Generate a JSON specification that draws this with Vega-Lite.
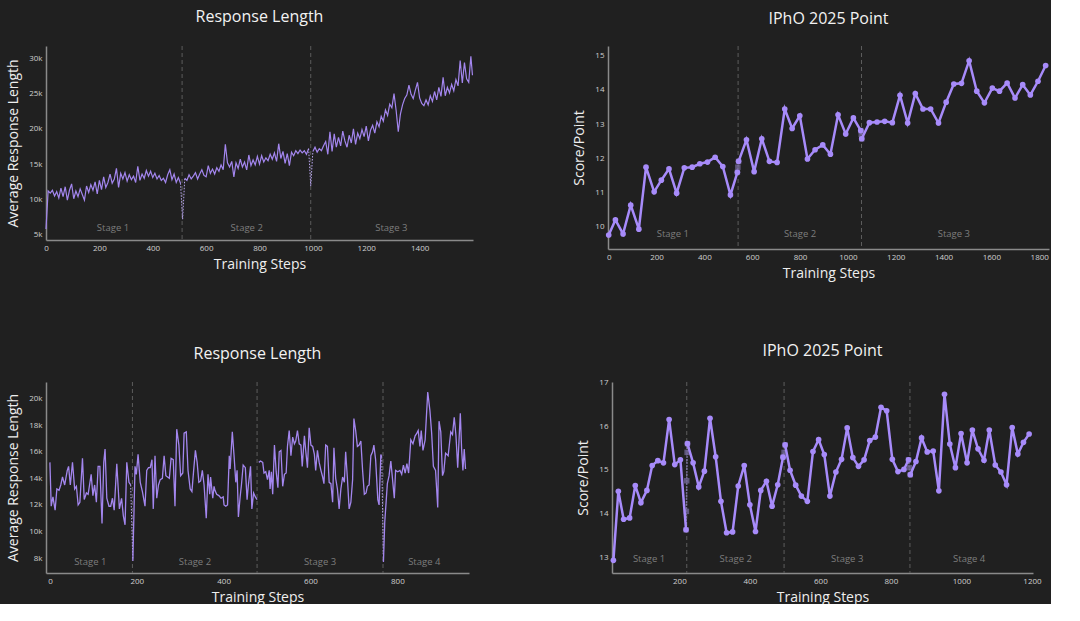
{
  "$schema": "https://vega.github.io/schema/vega-lite/v6.json",
  "background": "#202020",
  "padding": {"left": 6, "top": 8, "right": 0, "bottom": 0},
  "bounds": "flush",
  "config": {
    "font": "Open Sans",
    "view": {"stroke": null},
    "axis": {"domainColor": "#8a8a8a", "domainWidth": 1.5, "ticks": false, "grid": false, "tickCount": 30, "labelColor": "#cfcfcf", "labelFontSize": 8, "labelPadding": 4, "labelOverlap": false, "labelFlush": false, "titleColor": "#eeeeee", "titleFontSize": 14, "titleFontWeight": "normal", "titlePadding": 8},
    "axisX": {"titlePadding": 5},
    "title": {"fontSize": 16, "fontWeight": "normal", "color": "#f2f2f2", "anchor": "middle", "frame": "group"}
  },
  "datasets": {
    "p1": [
      {"step":0,"value":5800,"stage":1},{"step":8,"value":11200,"stage":1},{"step":16,"value":10900,"stage":1},{"step":24,"value":11300,"stage":1},{"step":32,"value":10500,"stage":1},{"step":40,"value":11100,"stage":1},{"step":48,"value":10200,"stage":1},{"step":56,"value":11600,"stage":1},{"step":64,"value":10400,"stage":1},{"step":72,"value":11800,"stage":1},{"step":80,"value":9900,"stage":1},{"step":88,"value":11300,"stage":1},{"step":96,"value":12200,"stage":1},{"step":104,"value":10100,"stage":1},{"step":112,"value":11200,"stage":1},{"step":120,"value":10400,"stage":1},{"step":128,"value":11500,"stage":1},{"step":136,"value":10700,"stage":1},{"step":144,"value":9900,"stage":1},{"step":152,"value":11900,"stage":1},{"step":160,"value":11000,"stage":1},{"step":168,"value":12100,"stage":1},{"step":176,"value":11300,"stage":1},{"step":184,"value":12500,"stage":1},{"step":192,"value":10800,"stage":1},{"step":200,"value":12700,"stage":1},{"step":208,"value":11400,"stage":1},{"step":216,"value":13200,"stage":1},{"step":224,"value":11700,"stage":1},{"step":232,"value":12400,"stage":1},{"step":240,"value":13600,"stage":1},{"step":248,"value":12300,"stage":1},{"step":256,"value":12900,"stage":1},{"step":264,"value":14400,"stage":1},{"step":272,"value":11700,"stage":1},{"step":280,"value":13700,"stage":1},{"step":288,"value":12900,"stage":1},{"step":296,"value":13800,"stage":1},{"step":304,"value":12600,"stage":1},{"step":312,"value":13500,"stage":1},{"step":320,"value":12800,"stage":1},{"step":328,"value":13300,"stage":1},{"step":336,"value":12400,"stage":1},{"step":344,"value":14700,"stage":1},{"step":352,"value":12700,"stage":1},{"step":360,"value":13600,"stage":1},{"step":368,"value":13000,"stage":1},{"step":376,"value":14100,"stage":1},{"step":384,"value":13300,"stage":1},{"step":392,"value":14000,"stage":1},{"step":400,"value":13100,"stage":1},{"step":408,"value":13700,"stage":1},{"step":416,"value":12900,"stage":1},{"step":424,"value":13400,"stage":1},{"step":432,"value":12700,"stage":1},{"step":440,"value":13000,"stage":1},{"step":448,"value":12400,"stage":1},{"step":456,"value":13500,"stage":1},{"step":464,"value":14200,"stage":1},{"step":472,"value":12800,"stage":1},{"step":480,"value":13600,"stage":1},{"step":488,"value":12400,"stage":1},{"step":496,"value":13100,"stage":1},{"step":504,"value":12300,"stage":1},
      {"step":520,"value":13000,"stage":2},{"step":528,"value":12700,"stage":2},{"step":536,"value":13500,"stage":2},{"step":544,"value":12900,"stage":2},{"step":552,"value":13300,"stage":2},{"step":560,"value":13800,"stage":2},{"step":568,"value":12900,"stage":2},{"step":576,"value":13600,"stage":2},{"step":584,"value":14200,"stage":2},{"step":592,"value":13400,"stage":2},{"step":600,"value":13200,"stage":2},{"step":608,"value":14800,"stage":2},{"step":616,"value":13700,"stage":2},{"step":624,"value":14300,"stage":2},{"step":632,"value":13600,"stage":2},{"step":640,"value":14500,"stage":2},{"step":648,"value":14000,"stage":2},{"step":656,"value":14900,"stage":2},{"step":664,"value":14200,"stage":2},{"step":672,"value":17800,"stage":2},{"step":680,"value":15200,"stage":2},{"step":688,"value":14600,"stage":2},{"step":696,"value":15400,"stage":2},{"step":704,"value":13200,"stage":2},{"step":712,"value":15200,"stage":2},{"step":720,"value":14400,"stage":2},{"step":728,"value":15700,"stage":2},{"step":736,"value":14600,"stage":2},{"step":744,"value":15300,"stage":2},{"step":752,"value":14200,"stage":2},{"step":760,"value":16300,"stage":2},{"step":768,"value":14800,"stage":2},{"step":776,"value":15600,"stage":2},{"step":784,"value":14900,"stage":2},{"step":792,"value":16100,"stage":2},{"step":800,"value":15000,"stage":2},{"step":808,"value":16200,"stage":2},{"step":816,"value":15300,"stage":2},{"step":824,"value":15900,"stage":2},{"step":832,"value":15500,"stage":2},{"step":840,"value":16400,"stage":2},{"step":848,"value":15700,"stage":2},{"step":856,"value":16600,"stage":2},{"step":864,"value":15400,"stage":2},{"step":872,"value":17900,"stage":2},{"step":880,"value":15800,"stage":2},{"step":888,"value":16800,"stage":2},{"step":896,"value":15100,"stage":2},{"step":904,"value":16500,"stage":2},{"step":912,"value":14800,"stage":2},{"step":920,"value":16700,"stage":2},{"step":928,"value":16200,"stage":2},{"step":936,"value":16900,"stage":2},{"step":944,"value":16500,"stage":2},{"step":952,"value":17000,"stage":2},{"step":960,"value":16600,"stage":2},{"step":968,"value":16900,"stage":2},{"step":976,"value":16400,"stage":2},{"step":984,"value":17200,"stage":2},
      {"step":1000,"value":16800,"stage":3},{"step":1008,"value":17400,"stage":3},{"step":1016,"value":16700,"stage":3},{"step":1024,"value":17200,"stage":3},{"step":1032,"value":16900,"stage":3},{"step":1040,"value":17600,"stage":3},{"step":1048,"value":18200,"stage":3},{"step":1056,"value":16400,"stage":3},{"step":1064,"value":19600,"stage":3},{"step":1072,"value":16800,"stage":3},{"step":1080,"value":19300,"stage":3},{"step":1088,"value":17400,"stage":3},{"step":1096,"value":18800,"stage":3},{"step":1104,"value":17600,"stage":3},{"step":1112,"value":19700,"stage":3},{"step":1120,"value":18300,"stage":3},{"step":1128,"value":17400,"stage":3},{"step":1136,"value":19100,"stage":3},{"step":1144,"value":18000,"stage":3},{"step":1152,"value":20000,"stage":3},{"step":1160,"value":17800,"stage":3},{"step":1168,"value":19400,"stage":3},{"step":1176,"value":18600,"stage":3},{"step":1184,"value":19900,"stage":3},{"step":1192,"value":18900,"stage":3},{"step":1200,"value":20400,"stage":3},{"step":1208,"value":18300,"stage":3},{"step":1216,"value":19800,"stage":3},{"step":1224,"value":20500,"stage":3},{"step":1232,"value":19400,"stage":3},{"step":1240,"value":21000,"stage":3},{"step":1248,"value":20300,"stage":3},{"step":1256,"value":21800,"stage":3},{"step":1264,"value":21100,"stage":3},{"step":1272,"value":22700,"stage":3},{"step":1280,"value":21900,"stage":3},{"step":1288,"value":23500,"stage":3},{"step":1296,"value":23000,"stage":3},{"step":1304,"value":25000,"stage":3},{"step":1312,"value":22600,"stage":3},{"step":1320,"value":19600,"stage":3},{"step":1328,"value":22100,"stage":3},{"step":1336,"value":23400,"stage":3},{"step":1344,"value":24300,"stage":3},{"step":1352,"value":24800,"stage":3},{"step":1360,"value":26200,"stage":3},{"step":1368,"value":24900,"stage":3},{"step":1376,"value":24300,"stage":3},{"step":1384,"value":25500,"stage":3},{"step":1392,"value":26600,"stage":3},{"step":1400,"value":24400,"stage":3},{"step":1408,"value":23600,"stage":3},{"step":1416,"value":23300,"stage":3},{"step":1424,"value":24100,"stage":3},{"step":1432,"value":23400,"stage":3},{"step":1440,"value":24700,"stage":3},{"step":1448,"value":23900,"stage":3},{"step":1456,"value":25300,"stage":3},{"step":1464,"value":24100,"stage":3},{"step":1472,"value":25900,"stage":3},{"step":1480,"value":24600,"stage":3},{"step":1488,"value":27300,"stage":3},{"step":1496,"value":24700,"stage":3},{"step":1504,"value":25900,"stage":3},{"step":1512,"value":25100,"stage":3},{"step":1520,"value":26300,"stage":3},{"step":1528,"value":25400,"stage":3},{"step":1536,"value":27000,"stage":3},{"step":1544,"value":26100,"stage":3},{"step":1552,"value":29700,"stage":3},{"step":1560,"value":26500,"stage":3},{"step":1568,"value":29400,"stage":3},{"step":1576,"value":27100,"stage":3},{"step":1584,"value":26600,"stage":3},{"step":1592,"value":30300,"stage":3},{"step":1598,"value":27600,"stage":3}
    ],
    "p1c": [
      {"step":504,"value":12300,"seg":1},{"step":512,"value":7200,"seg":1},{"step":520,"value":13000,"seg":1},
      {"step":984,"value":17200,"seg":2},{"step":992,"value":11900,"seg":2},{"step":1000,"value":16800,"seg":2}
    ],
    "p1b": [{"step":510},{"step":992}],
    "p1l": [{"step":251,"value":6000,"label":"Stage 1"},{"step":752,"value":6000,"label":"Stage 2"},{"step":1294,"value":6000,"label":"Stage 3"}],
    "p2": [
      {"step":0,"value":9.76,"stage":1},{"step":28,"value":10.2,"stage":1},{"step":60,"value":9.79,"stage":1},{"step":92,"value":10.63,"stage":1},{"step":126,"value":9.93,"stage":1},{"step":156,"value":11.74,"stage":1},{"step":190,"value":11.02,"stage":1},{"step":220,"value":11.36,"stage":1},{"step":252,"value":11.69,"stage":1},{"step":284,"value":10.98,"stage":1},{"step":316,"value":11.72,"stage":1},{"step":349,"value":11.74,"stage":1},{"step":381,"value":11.84,"stage":1},{"step":413,"value":11.89,"stage":1},{"step":445,"value":12.03,"stage":1},{"step":477,"value":11.76,"stage":1},{"step":509,"value":10.93,"stage":1},{"step":538,"value":11.59,"stage":1},
      {"step":543,"value":11.91,"stage":2},{"step":576,"value":12.54,"stage":2},{"step":608,"value":11.61,"stage":2},{"step":640,"value":12.57,"stage":2},{"step":672,"value":11.91,"stage":2},{"step":704,"value":11.88,"stage":2},{"step":736,"value":13.44,"stage":2},{"step":767,"value":12.87,"stage":2},{"step":799,"value":13.24,"stage":2},{"step":831,"value":11.98,"stage":2},{"step":863,"value":12.25,"stage":2},{"step":895,"value":12.39,"stage":2},{"step":927,"value":12.12,"stage":2},{"step":959,"value":13.27,"stage":2},{"step":991,"value":12.71,"stage":2},{"step":1023,"value":13.18,"stage":2},{"step":1054,"value":12.81,"stage":2},
      {"step":1058,"value":12.57,"stage":3},{"step":1090,"value":13.04,"stage":3},{"step":1122,"value":13.06,"stage":3},{"step":1154,"value":13.08,"stage":3},{"step":1186,"value":13.04,"stage":3},{"step":1218,"value":13.84,"stage":3},{"step":1250,"value":13.03,"stage":3},{"step":1282,"value":13.89,"stage":3},{"step":1314,"value":13.44,"stage":3},{"step":1346,"value":13.44,"stage":3},{"step":1379,"value":13.03,"stage":3},{"step":1411,"value":13.64,"stage":3},{"step":1443,"value":14.17,"stage":3},{"step":1475,"value":14.19,"stage":3},{"step":1507,"value":14.85,"stage":3},{"step":1539,"value":13.96,"stage":3},{"step":1571,"value":13.62,"stage":3},{"step":1604,"value":14.05,"stage":3},{"step":1634,"value":13.96,"stage":3},{"step":1666,"value":14.2,"stage":3},{"step":1699,"value":13.76,"stage":3},{"step":1731,"value":14.15,"stage":3},{"step":1763,"value":13.85,"stage":3},{"step":1795,"value":14.25,"stage":3},{"step":1827,"value":14.71,"stage":3}
    ],
    "p2c": [
      {"step":538,"value":11.59,"seg":1},{"step":540,"value":11.74,"seg":1},{"step":543,"value":11.91,"seg":1},
      {"step":1054,"value":12.81,"seg":2},{"step":1056,"value":12.7,"seg":2},{"step":1058,"value":12.57,"seg":2}
    ],
    "p2b": [{"step":541},{"step":1057}],
    "p2l": [{"step":268,"value":9.8,"label":"Stage 1"},{"step":800,"value":9.8,"label":"Stage 2"},{"step":1443,"value":9.8,"label":"Stage 3"}],
    "p3": [
      {"step":0,"value":15200,"stage":1},{"step":3,"value":11900,"stage":1},{"step":7,"value":12600,"stage":1},{"step":12,"value":11600,"stage":1},{"step":16,"value":13200,"stage":1},{"step":21,"value":13100,"stage":1},{"step":25,"value":13500,"stage":1},{"step":29,"value":14100,"stage":1},{"step":34,"value":13500,"stage":1},{"step":40,"value":14600,"stage":1},{"step":43,"value":14900,"stage":1},{"step":47,"value":13500,"stage":1},{"step":52,"value":15200,"stage":1},{"step":57,"value":13200,"stage":1},{"step":61,"value":13400,"stage":1},{"step":65,"value":12000,"stage":1},{"step":69,"value":12200,"stage":1},{"step":75,"value":15500,"stage":1},{"step":79,"value":12400,"stage":1},{"step":84,"value":12900,"stage":1},{"step":88,"value":12800,"stage":1},{"step":95,"value":14300,"stage":1},{"step":99,"value":12700,"stage":1},{"step":103,"value":13500,"stage":1},{"step":107,"value":12200,"stage":1},{"step":111,"value":14900,"stage":1},{"step":115,"value":14900,"stage":1},{"step":120,"value":10600,"stage":1},{"step":124,"value":15200,"stage":1},{"step":127,"value":16200,"stage":1},{"step":131,"value":12500,"stage":1},{"step":136,"value":11900,"stage":1},{"step":140,"value":11900,"stage":1},{"step":144,"value":12500,"stage":1},{"step":148,"value":11600,"stage":1},{"step":154,"value":15100,"stage":1},{"step":160,"value":11700,"stage":1},{"step":165,"value":12500,"stage":1},{"step":169,"value":11200,"stage":1},{"step":173,"value":10500,"stage":1},{"step":177,"value":15200,"stage":1},{"step":182,"value":13700,"stage":1},{"step":186,"value":13500,"stage":1},
      {"step":191,"value":7800,"stage":2},{"step":196,"value":14900,"stage":2},{"step":199,"value":14300,"stage":2},{"step":203,"value":15800,"stage":2},{"step":208,"value":13700,"stage":2},{"step":213,"value":13000,"stage":2},{"step":219,"value":11900,"stage":2},{"step":223,"value":14600,"stage":2},{"step":227,"value":14800,"stage":2},{"step":231,"value":14800,"stage":2},{"step":235,"value":15400,"stage":2},{"step":238,"value":11700,"stage":2},{"step":242,"value":15700,"stage":2},{"step":246,"value":12500,"stage":2},{"step":250,"value":13500,"stage":2},{"step":254,"value":13900,"stage":2},{"step":259,"value":14000,"stage":2},{"step":263,"value":15700,"stage":2},{"step":267,"value":14200,"stage":2},{"step":271,"value":14100,"stage":2},{"step":275,"value":14000,"stage":2},{"step":279,"value":15500,"stage":2},{"step":284,"value":15400,"stage":2},{"step":288,"value":11900,"stage":2},{"step":292,"value":17700,"stage":2},{"step":297,"value":16500,"stage":2},{"step":301,"value":14200,"stage":2},{"step":306,"value":14400,"stage":2},{"step":309,"value":17400,"stage":2},{"step":314,"value":17500,"stage":2},{"step":318,"value":14600,"stage":2},{"step":323,"value":13200,"stage":2},{"step":327,"value":13000,"stage":2},{"step":331,"value":14600,"stage":2},{"step":335,"value":16100,"stage":2},{"step":339,"value":15200,"stage":2},{"step":343,"value":13700,"stage":2},{"step":347,"value":13800,"stage":2},{"step":351,"value":14600,"stage":2},{"step":355,"value":13500,"stage":2},{"step":358,"value":12000,"stage":2},{"step":360,"value":11000,"stage":2},{"step":364,"value":14300,"stage":2},{"step":368,"value":12800,"stage":2},{"step":370,"value":14100,"stage":2},{"step":375,"value":12500,"stage":2},{"step":378,"value":13400,"stage":2},{"step":380,"value":13100,"stage":2},{"step":384,"value":12800,"stage":2},{"step":389,"value":12700,"stage":2},{"step":394,"value":12500,"stage":2},{"step":399,"value":12600,"stage":2},{"step":401,"value":12000,"stage":2},{"step":405,"value":11900,"stage":2},{"step":409,"value":12000,"stage":2},{"step":413,"value":15700,"stage":2},{"step":415,"value":14700,"stage":2},{"step":420,"value":17500,"stage":2},{"step":424,"value":15700,"stage":2},{"step":428,"value":13700,"stage":2},{"step":431,"value":14600,"stage":2},{"step":434,"value":11100,"stage":2},{"step":438,"value":12600,"stage":2},{"step":441,"value":13500,"stage":2},{"step":445,"value":15000,"stage":2},{"step":450,"value":14800,"stage":2},{"step":454,"value":12400,"stage":2},{"step":457,"value":13500,"stage":2},{"step":462,"value":14900,"stage":2},{"step":465,"value":11700,"stage":2},{"step":469,"value":12900,"stage":2},{"step":473,"value":12600,"stage":2},{"step":477,"value":12400,"stage":2},
      {"step":481,"value":15200,"stage":3},{"step":485,"value":15300,"stage":3},{"step":490,"value":15200,"stage":3},{"step":493,"value":14400,"stage":3},{"step":497,"value":14500,"stage":3},{"step":501,"value":13900,"stage":3},{"step":505,"value":14600,"stage":3},{"step":507,"value":13200,"stage":3},{"step":510,"value":14500,"stage":3},{"step":513,"value":12800,"stage":3},{"step":517,"value":16500,"stage":3},{"step":521,"value":14500,"stage":3},{"step":525,"value":13300,"stage":3},{"step":528,"value":16000,"stage":3},{"step":532,"value":16100,"stage":3},{"step":536,"value":13400,"stage":3},{"step":540,"value":14300,"stage":3},{"step":544,"value":14400,"stage":3},{"step":547,"value":16400,"stage":3},{"step":551,"value":17600,"stage":3},{"step":555,"value":15700,"stage":3},{"step":559,"value":17100,"stage":3},{"step":563,"value":16600,"stage":3},{"step":566,"value":16800,"stage":3},{"step":570,"value":17600,"stage":3},{"step":574,"value":16600,"stage":3},{"step":578,"value":16500,"stage":3},{"step":581,"value":14900,"stage":3},{"step":586,"value":17200,"stage":3},{"step":589,"value":16100,"stage":3},{"step":593,"value":14800,"stage":3},{"step":597,"value":17800,"stage":3},{"step":601,"value":16500,"stage":3},{"step":605,"value":16400,"stage":3},{"step":609,"value":15800,"stage":3},{"step":612,"value":14600,"stage":3},{"step":616,"value":16100,"stage":3},{"step":620,"value":15200,"stage":3},{"step":624,"value":14600,"stage":3},{"step":628,"value":14100,"stage":3},{"step":631,"value":13600,"stage":3},{"step":635,"value":16500,"stage":3},{"step":639,"value":16400,"stage":3},{"step":643,"value":13700,"stage":3},{"step":647,"value":13600,"stage":3},{"step":651,"value":12200,"stage":3},{"step":654,"value":16300,"stage":3},{"step":658,"value":14000,"stage":3},{"step":662,"value":13200,"stage":3},{"step":666,"value":11700,"stage":3},{"step":670,"value":13200,"stage":3},{"step":674,"value":14100,"stage":3},{"step":678,"value":13700,"stage":3},{"step":681,"value":16000,"stage":3},{"step":685,"value":14000,"stage":3},{"step":689,"value":11700,"stage":3},{"step":693,"value":12200,"stage":3},{"step":697,"value":13900,"stage":3},{"step":700,"value":18500,"stage":3},{"step":704,"value":17600,"stage":3},{"step":708,"value":16400,"stage":3},{"step":712,"value":16500,"stage":3},{"step":716,"value":16800,"stage":3},{"step":720,"value":14600,"stage":3},{"step":724,"value":12800,"stage":3},{"step":728,"value":12900,"stage":3},{"step":731,"value":13400,"stage":3},{"step":735,"value":13500,"stage":3},{"step":739,"value":15700,"stage":3},{"step":743,"value":16000,"stage":3},{"step":746,"value":16500,"stage":3},{"step":750,"value":15400,"stage":3},{"step":755,"value":12400,"stage":3},{"step":758,"value":12000,"stage":3},{"step":762,"value":15800,"stage":3},{"step":764,"value":15600,"stage":3},
      {"step":768,"value":7700,"stage":4},{"step":771,"value":10700,"stage":4},{"step":777,"value":13600,"stage":4},{"step":781,"value":14200,"stage":4},{"step":785,"value":15300,"stage":4},{"step":789,"value":13900,"stage":4},{"step":793,"value":12500,"stage":4},{"step":796,"value":14600,"stage":4},{"step":801,"value":14500,"stage":4},{"step":806,"value":14600,"stage":4},{"step":810,"value":14300,"stage":4},{"step":814,"value":15000,"stage":4},{"step":818,"value":14400,"stage":4},{"step":822,"value":15100,"stage":4},{"step":826,"value":14400,"stage":4},{"step":831,"value":16900,"stage":4},{"step":836,"value":16600,"stage":4},{"step":841,"value":17200,"stage":4},{"step":845,"value":17400,"stage":4},{"step":848,"value":17600,"stage":4},{"step":852,"value":16400,"stage":4},{"step":855,"value":17600,"stage":4},{"step":859,"value":16100,"stage":4},{"step":864,"value":16900,"stage":4},{"step":870,"value":20500,"stage":4},{"step":875,"value":19100,"stage":4},{"step":879,"value":17400,"stage":4},{"step":883,"value":14900,"stage":4},{"step":888,"value":14600,"stage":4},{"step":893,"value":11800,"stage":4},{"step":896,"value":18300,"stage":4},{"step":900,"value":17500,"stage":4},{"step":904,"value":14200,"stage":4},{"step":907,"value":14500,"stage":4},{"step":911,"value":15900,"stage":4},{"step":917,"value":15700,"stage":4},{"step":923,"value":17500,"stage":4},{"step":927,"value":17300,"stage":4},{"step":931,"value":18600,"stage":4},{"step":935,"value":17200,"stage":4},{"step":939,"value":14800,"stage":4},{"step":945,"value":18900,"stage":4},{"step":948,"value":16200,"stage":4},{"step":951,"value":14600,"stage":4},{"step":954,"value":16200,"stage":4},{"step":957,"value":14700,"stage":4}
    ],
    "p3c": [
      {"step":186,"value":13500,"seg":1},{"step":191,"value":7800,"seg":1},
      {"step":764,"value":15600,"seg":2},{"step":768,"value":7700,"seg":2}
    ],
    "p3b": [{"step":190},{"step":477},{"step":767}],
    "p3l": [{"step":93,"value":7720,"label":"Stage 1"},{"step":334,"value":7720,"label":"Stage 2"},{"step":622,"value":7720,"label":"Stage 3"},{"step":862,"value":7720,"label":"Stage 4"}],
    "p4": [
      {"step":13,"value":12.93,"stage":1},{"step":27,"value":14.51,"stage":1},{"step":42,"value":13.87,"stage":1},{"step":59,"value":13.9,"stage":1},{"step":75,"value":14.64,"stage":1},{"step":91,"value":14.25,"stage":1},{"step":108,"value":14.53,"stage":1},{"step":123,"value":15.1,"stage":1},{"step":139,"value":15.21,"stage":1},{"step":155,"value":15.16,"stage":1},{"step":171,"value":16.15,"stage":1},{"step":187,"value":15.12,"stage":1},{"step":203,"value":15.23,"stage":1},{"step":219,"value":13.63,"stage":1},
      {"step":223,"value":15.6,"stage":2},{"step":239,"value":15.16,"stage":2},{"step":255,"value":14.61,"stage":2},{"step":271,"value":14.97,"stage":2},{"step":287,"value":16.18,"stage":2},{"step":303,"value":15.3,"stage":2},{"step":318,"value":14.28,"stage":2},{"step":334,"value":13.56,"stage":2},{"step":351,"value":13.58,"stage":2},{"step":367,"value":14.63,"stage":2},{"step":384,"value":15.1,"stage":2},{"step":400,"value":14.2,"stage":2},{"step":416,"value":13.59,"stage":2},{"step":431,"value":14.53,"stage":2},{"step":447,"value":14.74,"stage":2},{"step":463,"value":14.17,"stage":2},{"step":479,"value":14.66,"stage":2},{"step":494,"value":15.29,"stage":2},
      {"step":500,"value":15.57,"stage":3},{"step":514,"value":14.99,"stage":3},{"step":530,"value":14.65,"stage":3},{"step":546,"value":14.4,"stage":3},{"step":563,"value":14.28,"stage":3},{"step":579,"value":15.42,"stage":3},{"step":595,"value":15.69,"stage":3},{"step":611,"value":15.35,"stage":3},{"step":627,"value":14.4,"stage":3},{"step":644,"value":14.95,"stage":3},{"step":660,"value":15.24,"stage":3},{"step":676,"value":15.96,"stage":3},{"step":692,"value":15.28,"stage":3},{"step":708,"value":15.08,"stage":3},{"step":724,"value":15.23,"stage":3},{"step":740,"value":15.67,"stage":3},{"step":756,"value":15.75,"stage":3},{"step":772,"value":16.43,"stage":3},{"step":788,"value":16.35,"stage":3},{"step":804,"value":15.24,"stage":3},{"step":820,"value":14.96,"stage":3},{"step":837,"value":15.01,"stage":3},{"step":850,"value":15.23,"stage":3},
      {"step":855,"value":14.89,"stage":4},{"step":871,"value":15.19,"stage":4},{"step":887,"value":15.73,"stage":4},{"step":903,"value":15.41,"stage":4},{"step":920,"value":15.43,"stage":4},{"step":936,"value":14.52,"stage":4},{"step":952,"value":16.73,"stage":4},{"step":967,"value":15.59,"stage":4},{"step":983,"value":15.05,"stage":4},{"step":999,"value":15.83,"stage":4},{"step":1016,"value":15.16,"stage":4},{"step":1031,"value":15.91,"stage":4},{"step":1047,"value":15.48,"stage":4},{"step":1064,"value":15.22,"stage":4},{"step":1079,"value":15.91,"stage":4},{"step":1096,"value":15.11,"stage":4},{"step":1112,"value":14.95,"stage":4},{"step":1128,"value":14.66,"stage":4},{"step":1144,"value":15.97,"stage":4},{"step":1160,"value":15.36,"stage":4},{"step":1176,"value":15.63,"stage":4},{"step":1192,"value":15.82,"stage":4}
    ],
    "p4c": [
      {"step":219,"value":13.63,"seg":1},{"step":220,"value":14.05,"seg":1},{"step":221,"value":14.75,"seg":1},{"step":222,"value":15.4,"seg":1},{"step":223,"value":15.6,"seg":1},
      {"step":494,"value":15.29,"seg":2},{"step":497,"value":15.4,"seg":2},{"step":500,"value":15.57,"seg":2},
      {"step":850,"value":15.23,"seg":3},{"step":852,"value":15.05,"seg":3},{"step":855,"value":14.89,"seg":3}
    ],
    "p4b": [{"step":221},{"step":497},{"step":854}],
    "p4l": [{"step":114,"value":12.97,"label":"Stage 1"},{"step":360,"value":12.97,"label":"Stage 2"},{"step":676,"value":12.97,"label":"Stage 3"},{"step":1022,"value":12.97,"label":"Stage 4"}]
  },
  "vconcat": [
    {
      "bounds": "flush",
      "hconcat": [
        {
          "title": {"text": "Response Length", "offset": 21},
          "width": 427, "height": 194,
          "layer": [
            {"data": {"name": "p1"}, "mark": {"type": "line", "color": "#a386ee", "strokeWidth": 1.2},
             "encoding": {"x": {"field": "step", "type": "quantitative", "scale": {"domain": [0, 1600], "nice": false, "zero": false}, "axis": {"title": "Training Steps", "values": [0, 200, 400, 600, 800, 1000, 1200, 1400], "format": "d"}},
                          "y": {"field": "value", "type": "quantitative", "scale": {"domain": [4250, 31750], "nice": false, "zero": false}, "axis": {"title": "Average Response Length", "values": [5000, 10000, 15000, 20000, 25000, 30000], "format": "~s"}},
                          "detail": {"field": "stage"}}},
            {"data": {"name": "p1b"}, "mark": {"type": "rule", "color": "#5c5c5c", "strokeDash": [4, 3], "strokeWidth": 1},
             "encoding": {"x": {"field": "step", "type": "quantitative"}}},
            {"data": {"name": "p1l"}, "mark": {"type": "text", "color": "#7d7d7d", "fontSize": 9.5},
             "encoding": {"x": {"field": "step", "type": "quantitative"},
                          "y": {"field": "value", "type": "quantitative"},
                          "text": {"field": "label"}}},
            {"data": {"name": "p1c"}, "mark": {"type": "line", "color": "#b9a6f0", "strokeWidth": 1, "strokeDash": [1.5, 1.5]},
             "encoding": {"x": {"field": "step", "type": "quantitative"},
                          "y": {"field": "value", "type": "quantitative"},
                          "detail": {"field": "seg"}}}
          ]
        },
        {
          "title": {"text": "IPhO 2025 Point", "offset": 19},
          "width": 441, "height": 203,
          "layer": [
            {"data": {"name": "p2b"}, "mark": {"type": "rule", "color": "#5c5c5c", "strokeDash": [4, 3], "strokeWidth": 1},
             "encoding": {"x": {"field": "step", "type": "quantitative", "scale": {"domain": [-3, 1841], "nice": false, "zero": false}, "axis": {"title": "Training Steps", "values": [0, 200, 400, 600, 800, 1000, 1200, 1400, 1600, 1800], "format": "d"}}}},
            {"data": {"name": "p2l"}, "mark": {"type": "text", "color": "#7d7d7d", "fontSize": 9.5},
             "encoding": {"x": {"field": "step", "type": "quantitative"},
                          "y": {"field": "value", "type": "quantitative", "scale": {"domain": [9.35, 15.28], "nice": false, "zero": false}, "axis": {"title": "Score/Point", "values": [10, 11, 12, 13, 14, 15], "format": "d"}},
                          "text": {"field": "label"}}},
            {"data": {"name": "p2c"}, "mark": {"type": "line", "color": "#8b7fb8", "strokeWidth": 1.5, "strokeDash": [1.5, 1.5], "point": {"shape": "square", "filled": true, "size": 30, "color": "#6f6594", "opacity": 0.8}},
             "encoding": {"x": {"field": "step", "type": "quantitative"},
                          "y": {"field": "value", "type": "quantitative"},
                          "detail": {"field": "seg"}}},
            {"data": {"name": "p2"}, "mark": {"type": "line", "color": "#a78bfa", "strokeWidth": 2.5, "point": {"filled": true, "size": 32, "color": "#a78bfa"}},
             "encoding": {"x": {"field": "step", "type": "quantitative"},
                          "y": {"field": "value", "type": "quantitative"},
                          "detail": {"field": "stage"}}}
          ]
        }
      ],
      "spacing": 135
    },
    {
      "bounds": "flush",
      "hconcat": [
        {
          "title": {"text": "Response Length", "offset": 20},
          "width": 423, "height": 191,
          "layer": [
            {"data": {"name": "p3b"}, "mark": {"type": "rule", "color": "#5c5c5c", "strokeDash": [4, 3], "strokeWidth": 1},
             "encoding": {"x": {"field": "step", "type": "quantitative", "scale": {"domain": [-9, 965], "nice": false, "zero": false}, "axis": {"title": "Training Steps", "values": [0, 200, 400, 600, 800], "format": "d"}}}},
            {"data": {"name": "p3l"}, "mark": {"type": "text", "color": "#7d7d7d", "fontSize": 9.5},
             "encoding": {"x": {"field": "step", "type": "quantitative"},
                          "y": {"field": "value", "type": "quantitative", "scale": {"domain": [6875, 21250], "nice": false, "zero": false}, "axis": {"title": "Average Response Length", "values": [8000, 10000, 12000, 14000, 16000, 18000, 20000], "format": "~s"}},
                          "text": {"field": "label"}}},
            {"data": {"name": "p3c"}, "mark": {"type": "line", "color": "#b9a6f0", "strokeWidth": 1, "strokeDash": [1.5, 1.5]},
             "encoding": {"x": {"field": "step", "type": "quantitative"},
                          "y": {"field": "value", "type": "quantitative"},
                          "detail": {"field": "seg"}}},
            {"data": {"name": "p3"}, "mark": {"type": "line", "color": "#a386ee", "strokeWidth": 1.3},
             "encoding": {"x": {"field": "step", "type": "quantitative"},
                          "y": {"field": "value", "type": "quantitative"},
                          "detail": {"field": "stage"}}}
          ]
        },
        {
          "title": {"text": "IPhO 2025 Point", "offset": 19},
          "width": 421, "height": 191,
          "layer": [
            {"data": {"name": "p4b"}, "mark": {"type": "rule", "color": "#5c5c5c", "strokeDash": [4, 3], "strokeWidth": 1},
             "encoding": {"x": {"field": "step", "type": "quantitative", "scale": {"domain": [9, 1203], "nice": false, "zero": false}, "axis": {"title": "Training Steps", "values": [200, 400, 600, 800, 1000, 1200], "format": "d"}}}},
            {"data": {"name": "p4l"}, "mark": {"type": "text", "color": "#7d7d7d", "fontSize": 9.5},
             "encoding": {"x": {"field": "step", "type": "quantitative"},
                          "y": {"field": "value", "type": "quantitative", "scale": {"domain": [12.64, 17.01], "nice": false, "zero": false}, "axis": {"title": "Score/Point", "values": [13, 14, 15, 16, 17], "format": "d"}},
                          "text": {"field": "label"}}},
            {"data": {"name": "p4c"}, "mark": {"type": "line", "color": "#8b7fb8", "strokeWidth": 1.5, "strokeDash": [1.5, 1.5], "point": {"shape": "square", "filled": true, "size": 30, "color": "#6f6594", "opacity": 0.8}},
             "encoding": {"x": {"field": "step", "type": "quantitative"},
                          "y": {"field": "value", "type": "quantitative"},
                          "detail": {"field": "seg"}}},
            {"data": {"name": "p4"}, "mark": {"type": "line", "color": "#a78bfa", "strokeWidth": 2.5, "point": {"filled": true, "size": 32, "color": "#a78bfa"}},
             "encoding": {"x": {"field": "step", "type": "quantitative"},
                          "y": {"field": "value", "type": "quantitative"},
                          "detail": {"field": "stage"}}}
          ]
        }
      ],
      "spacing": 143
    }
  ],
  "spacing": 336
}
